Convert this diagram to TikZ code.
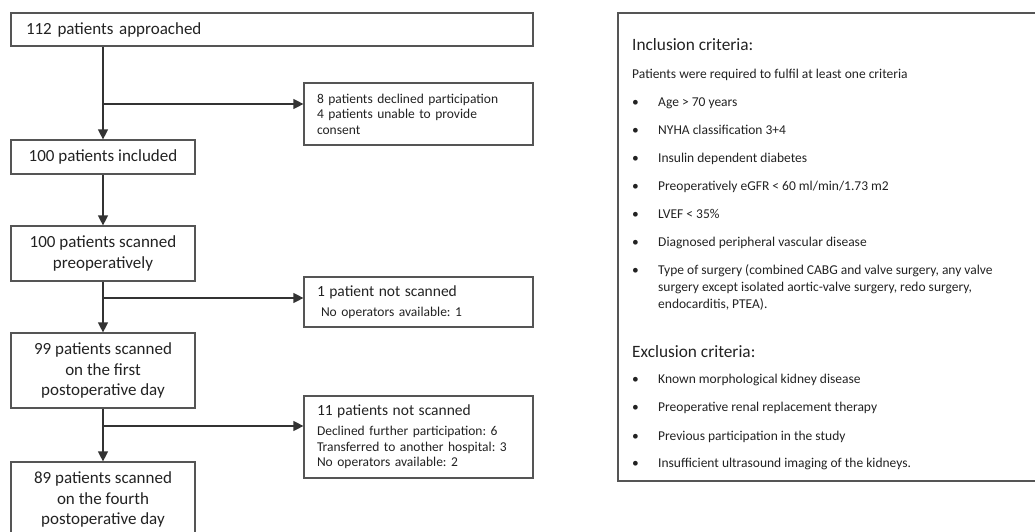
\documentclass[tikz,border=0pt]{standalone}
\usepackage{fontspec}
\setmainfont{Carlito}
\usetikzlibrary{arrows.meta}
\definecolor{boxgray}{HTML}{555555}
\definecolor{linecol}{HTML}{333333}
\definecolor{txt}{HTML}{222222}
\frenchspacing
\begin{document}
\begin{tikzpicture}[x=1pt,y=-1pt,
  fbox/.style={draw=boxgray, line width=1.2pt, inner sep=0pt, align=center, text=txt,
    font=\fontsize{17}{21}\selectfont, minimum width=184pt},
  sbox/.style={draw=boxgray, line width=1.2pt, inner xsep=13pt, inner ysep=0pt, text=txt,
    text width=203pt, align=left, font=\fontsize{13.5}{15.5}\selectfont},
  critbox/.style={draw=boxgray, line width=1.2pt, inner sep=0pt},
  crittext/.style={anchor=base west, inner sep=0pt, text=txt, font=\fontsize{13.5}{16}\selectfont},
  crithead/.style={anchor=base west, inner sep=0pt, text=txt, font=\fontsize{17.3}{20}\selectfont},
  arr/.style={draw=linecol, line width=1.2pt, -{Triangle[length=10pt,width=10pt]}}
]
\useasboundingbox (0,0) rectangle (1035,532);
\clip (0,0) rectangle (1035,532);

% left flow boxes
\node[fbox, minimum width=522pt, minimum height=33pt, text width=492pt, inner xsep=15pt, align=left] (A) at (272,29.5) {112 patients approached};
\node[fbox, minimum height=34pt] (B) at (103,157) {100 patients included};
\node[fbox, minimum height=55pt] (C) at (103,253.5) {100 patients scanned\\preoperatively};
\node[fbox, minimum height=75pt, font=\fontsize{17}{20.5}\selectfont] (D) at (103,370.5) {99 patients scanned\\on the first\\postoperative day};
\node[fbox, minimum height=75pt, font=\fontsize{17}{20.5}\selectfont] (E) at (103,499.5) {89 patients scanned\\on the fourth\\postoperative day};

% side boxes
\node[sbox, minimum height=62pt] (S1) at (418.5,114) {8 patients declined participation\\4 patients unable to provide\\consent};
\node[sbox, minimum height=50pt, font=\fontsize{13.5}{20}\selectfont] (S2) at (418.5,302) {{\fontsize{15.5}{20}\selectfont 1 patient not scanned}\\\hspace*{4pt}No operators available: 1};
\node[sbox, minimum height=82pt] (S3) at (418.5,437) {{\fontsize{15.5}{15.5}\selectfont 11 patients not scanned}\\[4.5pt]Declined further participation: 6\\Transferred to another hospital: 3\\No operators available: 2};

% connectors
\coordinate (j1) at (103,104);
\coordinate (j2) at (103,298);
\coordinate (j3) at (103,426);
\draw[arr] (A.south -| B.north) -- (B.north);
\draw[arr] (j1) -- (j1 -| S1.west);
\draw[arr] (B.south) -- (C.north);
\draw[arr] (C.south) -- (D.north);
\draw[arr] (j2) -- (j2 -| S2.west);
\draw[arr] (D.south) -- (E.north);
\draw[arr] (j3) -- (j3 -| S3.west);

% criteria box (right edge runs past the picture)
\node[critbox, minimum width=422pt, minimum height=468pt] (crit) at (829,247) {};
\node[crithead] (inh) at (632,51) {Inclusion criteria:};
\node[crittext] (insub) at (632,79) {Patients were required to fulfil at least one criteria};
\foreach \y/\t [count=\i] in {106.5/{Age > 70 years},
  134.5/{NYHA classification 3+4},
  162.5/{Insulin dependent diabetes},
  190.5/{Preoperatively eGFR < 60 ml/min/1.73 m2},
  218.5/{LVEF < 35\%},
  246.5/{Diagnosed peripheral vascular disease},
  274.5/{Type of surgery (combined CABG and valve surgery, any valve}} {
  \node[crittext] (ib\i) at (632,\y) {•};
  \node[crittext] (it\i) at (658,\y) {\t};
}
\node[crittext] (it7b) at (658,291.5) {surgery except isolated aortic-valve surgery, redo surgery,};
\node[crittext] (it7c) at (658,308.5) {endocarditis, PTEA).};
\node[crithead] (exh) at (632,357) {Exclusion criteria:};
\foreach \y/\t [count=\i] in {383.5/{Known morphological kidney disease},
  411.5/{Preoperative renal replacement therapy},
  440/{Previous participation in the study},
  467.5/{Insufficient ultrasound imaging of the kidneys.}} {
  \node[crittext] (eb\i) at (632,\y) {•};
  \node[crittext] (et\i) at (658,\y) {\t};
}
\end{tikzpicture}
\end{document}
